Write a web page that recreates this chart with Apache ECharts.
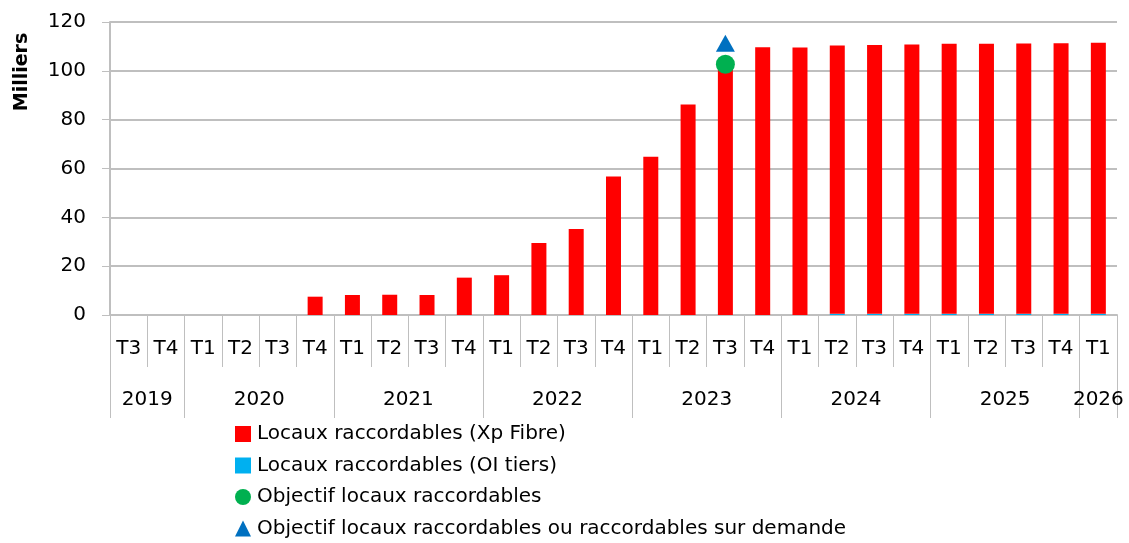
<!DOCTYPE html>
<html>
<head>
<meta charset="utf-8">
<script src="https://cdn.jsdelivr.net/npm/echarts@6/dist/echarts.min.js"></script>
<style>
html, body { margin: 0; padding: 0; background: #fff; }
#chart { width: 1129px; height: 543px; }
</style>
</head>
<body>
<div id="chart"></div>
<script>
// trimestres (niveau 1 de l'axe)
var quarters = ['T3','T4',
	'T1','T2','T3','T4',
	'T1','T2','T3','T4',
	'T1','T2','T3','T4',
	'T1','T2','T3','T4',
	'T1','T2','T3','T4',
	'T1','T2','T3','T4',
	'T1'];
// années (niveau 2) et nombre de trimestres par année
var years = ['2019','2020','2021','2022','2023','2024','2025','2026'];
var quartersPerYear = [2,4,4,4,4,4,4,1];

// milliers de locaux
var xpFibre = [0,0,0,0,0,7.5,
	8.2,8.3,8.2,15.3,
	16.3,29.5,35.2,56.7,
	64.8,86.2,102.0,109.7,
	109.6,109.9,110.1,110.3,
	110.6,110.6,110.7,110.8,
	111.0];
var oiTiers = [0,0,0,0,0,0,
	0,0,0,0,
	0,0,0,0,
	0,0,0,0,
	0,0.5,0.5,0.5,
	0.5,0.5,0.5,0.5,
	0.5];
var objectif = ['-','-','-','-','-','-',
	'-','-','-','-',
	'-','-','-','-',
	'-','-',102.7,'-',
	'-','-','-','-',
	'-','-','-','-',
	'-'];
var objectifDemande = ['-','-','-','-','-','-',
	'-','-','-','-',
	'-','-','-','-',
	'-','-',111.3,'-',
	'-','-','-','-',
	'-','-','-','-',
	'-'];

var font = '"DejaVu Sans", sans-serif';
var gray = '#bfbfbf';

// axe des années : 2 points par trimestre, boundaryGap false
var yearSlots = [], yearLabelIdx = {}, yearTickIdx = {0: true};
var pos = 0;
for (var i = 0; i < quarters.length * 2 + 1; i++) yearSlots.push('');
years.map(function(y, k){
	var n = quartersPerYear[k];
	var center = pos * 2 + n;
	yearSlots[center] = y;
	yearLabelIdx[center] = true;
	pos += n;
	yearTickIdx[pos * 2] = true;
});

var chart = echarts.init(document.getElementById('chart'));
var option = {
	animation: false,
	textStyle: { fontFamily: font },
	grid: { left: 110, right: 12, top: 22, bottom: 228, containLabel: false },
	legend: {
		orient: 'vertical',
		left: 235,
		top: 424,
		height: 200,
		padding: 0,
		itemGap: 11.5,
		itemWidth: 16,
		itemHeight: 16,
		textStyle: { fontFamily: font, fontSize: 20, lineHeight: 20, color: '#000', padding: [0, 0, 0, 1] },
		data: [
			{ name: 'Locaux raccordables (Xp Fibre)', icon: 'rect' },
			{ name: 'Locaux raccordables (OI tiers)', icon: 'rect' },
			{ name: 'Objectif locaux raccordables', icon: 'circle' },
			{ name: 'Objectif locaux raccordables ou raccordables sur demande', icon: 'triangle' }
		]
	},
	xAxis: [{
		type: 'category',
		data: quarters,
		boundaryGap: true,
		axisLine: { lineStyle: { color: gray, width: 2 } },
		axisTick: { show: true, interval: 0, length: 52, lineStyle: { color: gray, width: 1 } },
		axisLabel: { interval: 0, margin: 24, fontSize: 20, color: '#000', fontFamily: font }
	}, {
		type: 'category',
		data: yearSlots,
		boundaryGap: false,
		position: 'bottom',
		axisLine: { show: false },
		axisTick: {
			show: true,
			length: 103,
			interval: function(index){ return !!yearTickIdx[index]; },
			lineStyle: { color: gray, width: 1 }
		},
		axisLabel: {
			margin: 75,
			fontSize: 20,
			color: '#000',
			fontFamily: font,
			interval: function(index){ return !!yearLabelIdx[index]; }
		}
	}],
	yAxis: {
		type: 'value',
		min: 0,
		max: 120,
		interval: 20,
		axisLine: { show: true, lineStyle: { color: gray, width: 2 } },
		axisTick: { show: true, length: 8, lineStyle: { color: gray } },
		splitLine: { lineStyle: { color: gray, width: 2 } },
		axisLabel: { margin: 24, fontSize: 20, color: '#000', fontFamily: font }
	},
	graphic: [{
		type: 'text',
		x: 22,
		y: 72,
		rotation: Math.PI / 2,
		style: {
			text: 'Milliers',
			font: 'bold 19px ' + font,
			fill: '#000',
			align: 'center',
			verticalAlign: 'middle'
		}
	}],
	series: [{
		name: 'Locaux raccordables (OI tiers)',
		type: 'bar',
		stack: 'locaux',
		barWidth: 15,
		itemStyle: { color: '#00b0f0' },
		data: oiTiers
	}, {
		name: 'Locaux raccordables (Xp Fibre)',
		type: 'bar',
		stack: 'locaux',
		barWidth: 15,
		itemStyle: { color: '#ff0000' },
		data: xpFibre
	}, {
		name: 'Objectif locaux raccordables',
		type: 'scatter',
		symbol: 'circle',
		symbolSize: 19,
		itemStyle: { color: '#00b050', opacity: 1 },
		data: objectif
	}, {
		name: 'Objectif locaux raccordables ou raccordables sur demande',
		type: 'scatter',
		symbol: 'triangle',
		symbolSize: [19, 17],
		itemStyle: { color: '#0070c0', opacity: 1 },
		data: objectifDemande
	}]
};
chart.setOption(option);
</script>
</body>
</html>
